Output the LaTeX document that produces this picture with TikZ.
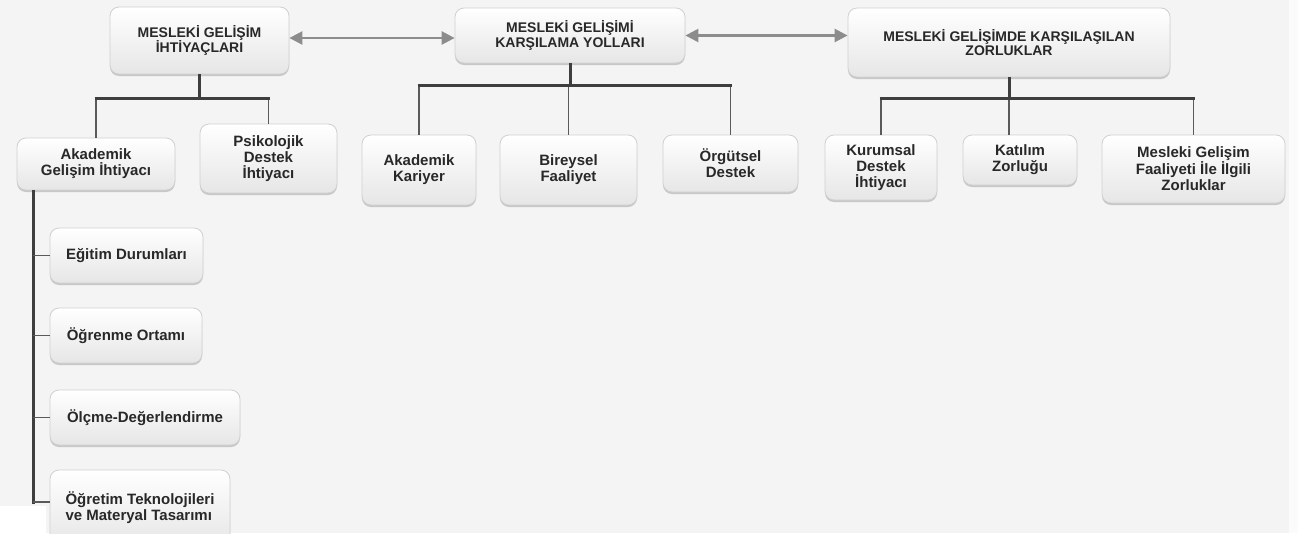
\documentclass[tikz,border=0pt]{standalone}
\usepackage{fontspec}
\setmainfont{Liberation Sans}
\usetikzlibrary{shadows,arrows.meta,calc}
\definecolor{bg}{RGB}{244,244,244}
\definecolor{txt}{RGB}{40,40,40}
\definecolor{barc}{RGB}{62,62,62}
\definecolor{dropc}{RGB}{90,90,90}
\definecolor{arr}{RGB}{140,140,140}
\definecolor{bord}{RGB}{208,208,208}
\definecolor{boxbot}{RGB}{230,230,230}
\begin{document}
\begin{tikzpicture}[x=1pt,y=-1pt,
  box/.style={draw=bord, line width=0.8pt, rounded corners=9pt, top color=white, bottom color=boxbot,
    drop shadow={shadow xshift=0pt, shadow yshift=-2pt, opacity=0.18, fill=black},
    align=center, font=\bfseries\fontsize{15}{15.8}\selectfont, text=txt, inner sep=0pt},
  topbox/.style={box, font=\bfseries\fontsize{14}{14.5}\selectfont},
  barline/.style={draw=barc, line width=3pt},
  dropline/.style={draw=dropc, line width=1.3pt},
  biarrow/.style={draw=arr, line width=2.5pt, {Triangle[length=13pt,width=13pt]}-{Triangle[length=13pt,width=13pt]}}
]
\clip (0,0) rectangle (1298,533);
\fill[bg] (0,0) rectangle (1298,533);
\fill[white] (0,506) rectangle (46,533);
\fill[white!60!bg] (1289,0) rectangle (1298,533);

% top level
\node[topbox, minimum width=179pt, minimum height=67pt] (N1) at (199.5,40.5) {MESLEKİ GELİŞİM\\İHTİYAÇLARI};
\node[topbox, minimum width=230pt, minimum height=55pt] (N2) at (570,35.5) {MESLEKİ GELİŞİMİ\\KARŞILAMA YOLLARI};
\node[topbox, minimum width=322pt, minimum height=69pt] (N3) at (1009,42.5) {MESLEKİ GELİŞİMDE KARŞILAŞILAN\\ZORLUKLAR};

% second level
\node[box, minimum width=158pt, minimum height=52pt] (A1) at (96,164) {Akademik\\Gelişim İhtiyacı};
\node[box, minimum width=137pt, minimum height=69pt] (A2) at (268.5,158.5) {Psikolojik\\Destek\\İhtiyacı};
\node[box, minimum width=114pt, minimum height=70pt] (B1) at (419,170) {Akademik\\Kariyer};
\node[box, minimum width=137pt, minimum height=70pt] (B2) at (568.5,170) {Bireysel\\Faaliyet};
\node[box, minimum width=135pt, minimum height=57pt] (B3) at (730.5,163.5) {Örgütsel\\Destek};
\node[box, minimum width=112pt, minimum height=65pt] (C1) at (881,167.5) {Kurumsal\\Destek\\İhtiyacı};
\node[box, minimum width=114pt, minimum height=50pt] (C2) at (1020,160) {Katılım\\Zorluğu};
\node[box, minimum width=183pt, minimum height=68pt] (C3) at (1193.5,169) {Mesleki Gelişim\\Faaliyeti İle İlgili\\Zorluklar};

% third level
\node[box, minimum width=153pt, minimum height=55pt] (D1) at (126.5,255.5) {Eğitim Durumları};
\node[box, minimum width=152pt, minimum height=55pt] (D2) at (126,335.5) {Öğrenme Ortamı};
\node[box, minimum width=190pt, minimum height=55pt] (D3) at (145,417.5) {Ölçme-Değerlendirme};
\node[box, align=left, minimum width=180pt, minimum height=76pt] (D4) at (140,508) {Öğretim Teknolojileri\\ve Materyal Tasarımı};

% arrows between top nodes
\draw[biarrow] ([yshift=2.5pt]N1.east) -- ([yshift=2.5pt]N1.east -| N2.west);
\draw[biarrow] (N2.east) -- (N2.east -| N3.west);

% tree connectors
\coordinate (b1) at (0,98);
\coordinate (b2) at (0,85);
\coordinate (b3) at (0,98);

\draw[dropline] (A1.north |- b1) -- (A1.north);
\draw[dropline] (A2.north |- b1) -- (A2.north);
\draw[barline] (N1.south) -- (N1.south |- b1);
\draw[barline] ([xshift=-1.5pt]A1.north |- b1) -- ([xshift=1.5pt]A2.north |- b1);

\draw[dropline] (B1.north |- b2) -- (B1.north);
\draw[dropline] (B2.north |- b2) -- (B2.north);
\draw[dropline] (B3.north |- b2) -- (B3.north);
\draw[barline] (N2.south) -- (N2.south |- b2);
\draw[barline] ([xshift=-1.5pt]B1.north |- b2) -- ([xshift=1.5pt]B3.north |- b2);

\draw[dropline] (C1.north |- b3) -- (C1.north);
\draw[dropline] (N3.south |- b3) -- (N3.south |- C2.north);
\draw[dropline] (C3.north |- b3) -- (C3.north);
\draw[barline] (N3.south) -- (N3.south |- b3);
\draw[barline] ([xshift=-1.5pt]C1.north |- b3) -- ([xshift=1.5pt]C3.north |- b3);

% left branch
\coordinate (v) at (33,0);
\coordinate (d4b) at (33,502);
\draw[barline] (A1.south -| v) -- ([yshift=-1.5pt]d4b);
\draw[dropline] (v |- D1.west) -- (D1.west);
\draw[dropline] (v |- D2.west) -- (D2.west);
\draw[dropline] (v |- D3.west) -- (D3.west);
\draw[dropline] (d4b) -- (d4b -| D4.west);
\end{tikzpicture}
\end{document}
